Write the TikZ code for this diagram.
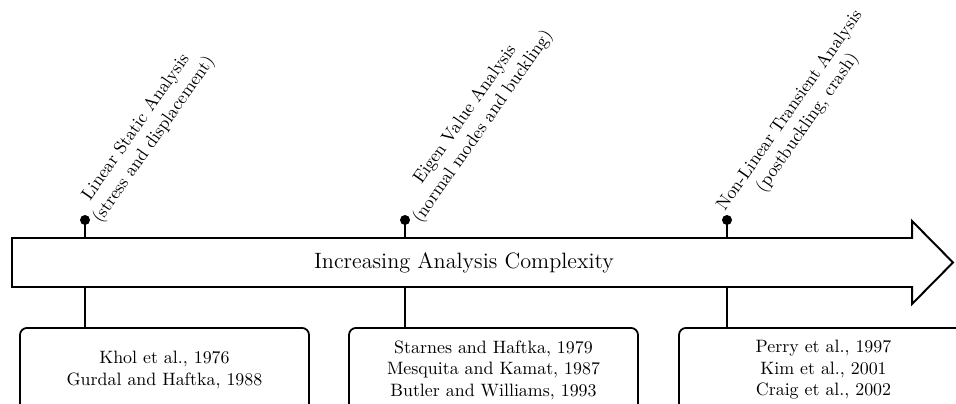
\documentclass[tikz,border=0pt]{standalone}
\begin{document}
\begin{tikzpicture}[x=0.5587pt,y=-0.5587pt,
  bar/.style={draw, line width=1.1pt, fill=white},
  refbox/.style={draw, line width=1pt, rounded corners=4pt, minimum width=161.5pt,
    minimum height=47pt, align=center, anchor=north},
  stem/.style={line width=1.5pt},
  tag/.style={rotate=55, anchor=west, align=center, inner sep=3pt},
  dot/.style={circle, fill, inner sep=0pt, minimum size=5.6pt}]
\useasboundingbox (0,0) rectangle (956,404);

% main arrow
\draw[bar] (12,238) -- (912,238) -- (912,221) -- (953,262.5) -- (912,304) -- (912,287) -- (12,287) -- cycle;
\node[font=\fontsize{12.4}{15}\selectfont] (title) at (464,263) {Increasing Analysis Complexity};

% attachment points on the arrow
\coordinate (t1) at (85,238);  \coordinate (b1) at (85,287);
\coordinate (t2) at (405,238); \coordinate (b2) at (405,287);
\coordinate (t3) at (727,238); \coordinate (b3) at (727,287);

% reference boxes
\node[refbox] (r1) at (164.5,327) {Khol et al., 1976\\Gurdal and Haftka, 1988};
\node[refbox] (r2) at (493.5,327) {Starnes and Haftka, 1979\\Mesquita and Kamat, 1987\\Butler and Williams, 1993};
\node[refbox] (r3) at (823.5,327) {Perry et al., 1997\\Kim et al., 2001\\Craig et al., 2002};

% markers
\node[dot] (d1) at (85,220) {};
\node[dot] (d2) at (405,220) {};
\node[dot] (d3) at (727,220) {};

\draw[stem] (d1.center) -- (t1);
\draw[stem] (d2.center) -- (t2);
\draw[stem] (d3.center) -- (t3);
\draw[stem] (b1) -- (b1 |- r1.north);
\draw[stem] (b2) -- (b2 |- r2.north);
\draw[stem] (b3) -- (b3 |- r3.north);

% analysis types
\node[tag] (l1) at (d1) {Linear Static Analysis\\(stress and displacement)};
\node[tag] (l2) at (d2) {Eigen Value Analysis\\(normal modes and buckling)};
\node[tag] (l3) at (d3) {Non-Linear Transient Analysis\\(postbuckling, crash)};
\end{tikzpicture}
\end{document}
